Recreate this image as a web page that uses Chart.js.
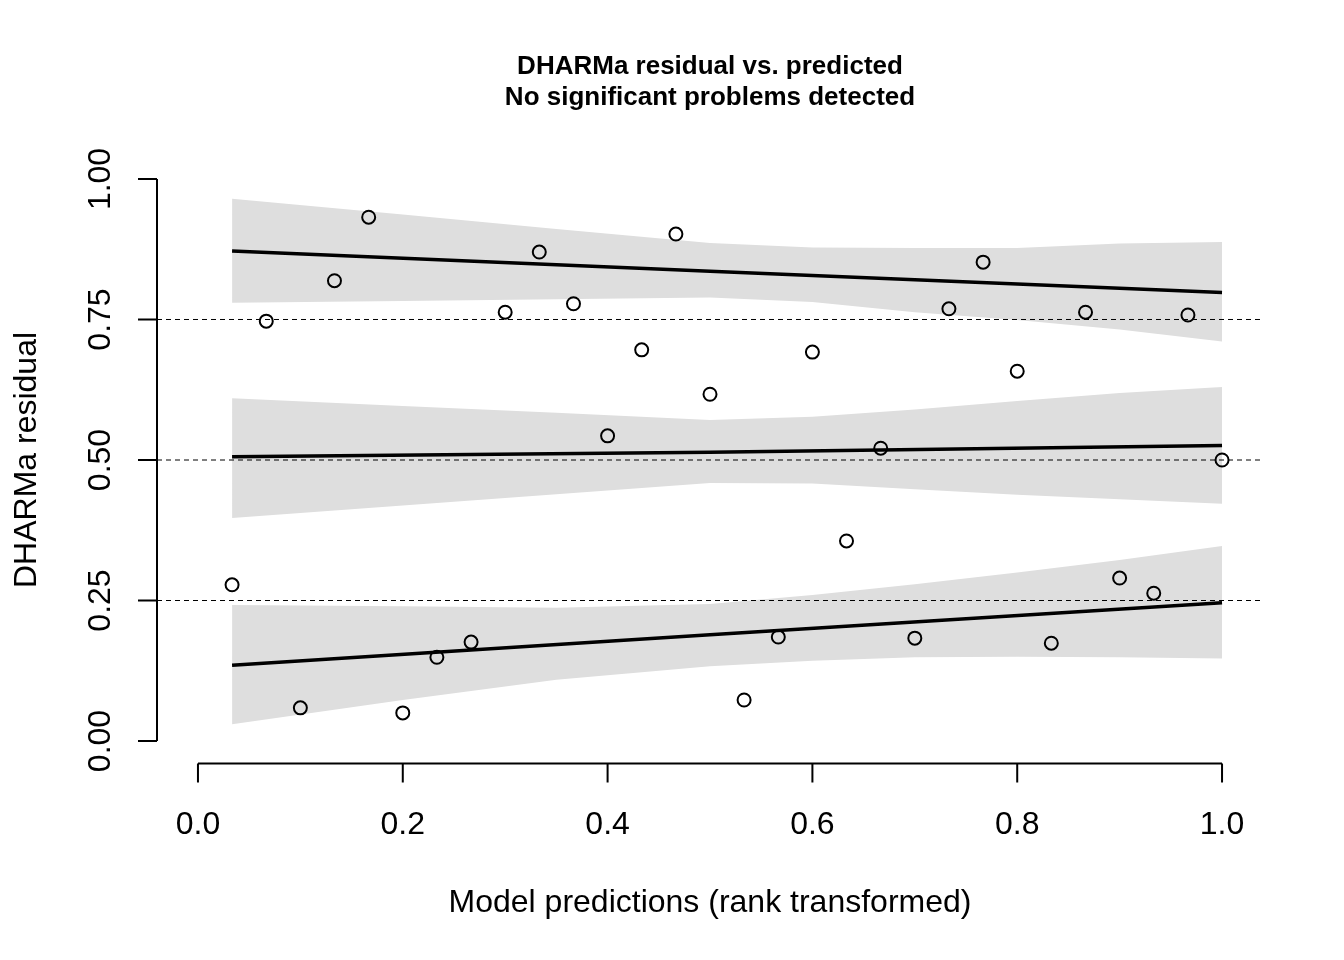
<!DOCTYPE html>
<html>
<head>
<meta charset="utf-8">
<title>DHARMa residual vs. predicted</title>
<script src="https://cdn.jsdelivr.net/npm/chart.js@4.4.1/dist/chart.umd.min.js"></script>
<style>
  html, body { margin: 0; padding: 0; background: #fff; }
  #wrap { width: 1344px; height: 960px; }
</style>
</head>
<body>
<div id="wrap"><canvas id="chart" width="1344" height="960"></canvas></div>
<script>
// scaled residuals, x = rank transformed predictions (i/30)
const pointX = [
  0.0333, 0.0667, 0.1, 0.1333, 0.1667, 0.2, 0.2333, 0.2667, 0.3, 0.3333,
  0.3667, 0.4, 0.4333, 0.4667, 0.5, 0.5333, 0.5667, 0.6, 0.6333, 0.6667,
  0.7, 0.7333, 0.7667, 0.8, 0.8333, 0.8667, 0.9, 0.9333, 0.9667, 1.0,
];
const residuals = [
  0.278, 0.747, 0.059, 0.819, 0.932, 0.050, 0.149, 0.176, 0.763, 0.870,
  0.778, 0.543, 0.696, 0.902, 0.617, 0.073, 0.185, 0.692, 0.356, 0.521,
  0.183, 0.769, 0.852, 0.658, 0.174, 0.763, 0.290, 0.263, 0.758, 0.500,
];

// quantile regression lines
const lineX = [0.0333, 0.5, 1.0];
const q75Line = [0.872, 0.836, 0.798];
const q50Line = [0.506, 0.514, 0.526];
const q25Line = [0.135, 0.189, 0.246];

// confidence bands around each quantile line
const bandX = [0.0333, 0.2, 0.35, 0.5, 0.6, 0.7, 0.8, 0.9, 1.0];
const q75Upper = [0.965, 0.937, 0.911, 0.886, 0.878, 0.877, 0.877, 0.885, 0.888];
const q75Lower = [0.780, 0.783, 0.786, 0.789, 0.781, 0.763, 0.749, 0.732, 0.711];
const q50Upper = [0.610, 0.596, 0.584, 0.571, 0.577, 0.590, 0.605, 0.619, 0.630];
const q50Lower = [0.397, 0.419, 0.439, 0.459, 0.458, 0.448, 0.438, 0.430, 0.422];
const q25Upper = [0.242, 0.240, 0.237, 0.244, 0.260, 0.279, 0.300, 0.322, 0.347];
const q25Lower = [0.030, 0.073, 0.109, 0.133, 0.143, 0.149, 0.150, 0.149, 0.147];

const refLevels = [0.25, 0.5, 0.75];
const xTicks = [0, 0.2, 0.4, 0.6, 0.8, 1.0];
const xTickLabels = ["0.0", "0.2", "0.4", "0.6", "0.8", "1.0"];
const yTicks = [0, 0.25, 0.5, 0.75, 1.0];
const yTickLabels = ["0.00", "0.25", "0.50", "0.75", "1.00"];

const X_MIN = -0.04, X_MAX = 1.04, Y_MIN = -0.04, Y_MAX = 1.04;
const FONT = '"Liberation Sans", Arial, sans-serif';
const BAND = "#dedede";

const toXY = (xs, ys) => xs.map((x, i) => ({ x, y: ys[i] }));

function bandPair(upper, lower) {
  const base = { pointRadius: 0, borderWidth: 0, borderColor: BAND, backgroundColor: BAND, order: 4 };
  return [
    { ...base, data: toXY(bandX, upper), fill: "+1" },
    { ...base, data: toXY(bandX, lower), fill: false },
  ];
}

const refSets = refLevels.map((lvl) => ({
  data: [{ x: X_MIN, y: lvl }, { x: X_MAX, y: lvl }],
  borderColor: "#000",
  borderWidth: 1,
  borderDash: [5, 4],
  pointRadius: 0,
  fill: false,
  order: 3,
}));

const lineSets = [q75Line, q50Line, q25Line].map((ys) => ({
  data: toXY(lineX, ys),
  borderColor: "#000",
  borderWidth: 3.5,
  pointRadius: 0,
  fill: false,
  order: 2,
}));

// R style axes: line only between outer ticks, outward ticks, rotated y labels
const rAxes = {
  id: "rAxes",
  afterDraw(chart) {
    const { ctx, chartArea: area, scales } = chart;
    const xs = scales.x, ys = scales.y;
    ctx.save();
    ctx.strokeStyle = "#000";
    ctx.fillStyle = "#000";
    ctx.lineWidth = 2;

    // x axis
    const axY = area.bottom;
    ctx.beginPath();
    ctx.moveTo(xs.getPixelForValue(xTicks[0]), axY);
    ctx.lineTo(xs.getPixelForValue(xTicks[xTicks.length - 1]), axY);
    xTicks.forEach((t) => {
      const px = xs.getPixelForValue(t);
      ctx.moveTo(px, axY);
      ctx.lineTo(px, axY + 19);
    });
    ctx.stroke();
    ctx.font = `32px ${FONT}`;
    ctx.textAlign = "center";
    ctx.textBaseline = "alphabetic";
    xTicks.forEach((t, i) => ctx.fillText(xTickLabels[i], xs.getPixelForValue(t), 834));

    // y axis
    const axX = area.left;
    ctx.beginPath();
    ctx.moveTo(axX, ys.getPixelForValue(yTicks[0]));
    ctx.lineTo(axX, ys.getPixelForValue(yTicks[yTicks.length - 1]));
    yTicks.forEach((t) => {
      const py = ys.getPixelForValue(t);
      ctx.moveTo(axX, py);
      ctx.lineTo(axX - 19, py);
    });
    ctx.stroke();
    yTicks.forEach((t, i) => {
      ctx.save();
      ctx.translate(110, ys.getPixelForValue(t));
      ctx.rotate(-Math.PI / 2);
      ctx.fillText(yTickLabels[i], 0, 0);
      ctx.restore();
    });

    // axis titles
    const midX = (area.left + area.right) / 2;
    const midY = (area.top + area.bottom) / 2;
    ctx.fillText("Model predictions (rank transformed)", midX, 912);
    ctx.save();
    ctx.translate(36, midY);
    ctx.rotate(-Math.PI / 2);
    ctx.fillText("DHARMa residual", 0, 0);
    ctx.restore();

    // main title
    ctx.font = `bold 26px ${FONT}`;
    ctx.fillText("DHARMa residual vs. predicted", midX, 74);
    ctx.fillText("No significant problems detected", midX, 105);
    ctx.restore();
  },
};

new Chart(document.getElementById("chart").getContext("2d"), {
  type: "line",
  data: {
    datasets: [
      ...bandPair(q75Upper, q75Lower),
      ...bandPair(q50Upper, q50Lower),
      ...bandPair(q25Upper, q25Lower),
      ...refSets,
      ...lineSets,
      {
        data: toXY(pointX, residuals),
        showLine: false,
        pointStyle: "circle",
        pointRadius: 6.5,
        pointBorderWidth: 2,
        pointBorderColor: "#000",
        pointBackgroundColor: "rgba(0,0,0,0)",
        order: 1,
      },
    ],
  },
  options: {
    responsive: false,
    animation: false,
    devicePixelRatio: 1,
    layout: { padding: { left: 157, right: 81, top: 156.5, bottom: 196.5 } },
    scales: {
      x: { type: "linear", min: X_MIN, max: X_MAX, display: false },
      y: { type: "linear", min: Y_MIN, max: Y_MAX, display: false },
    },
    plugins: {
      legend: { display: false },
      tooltip: { enabled: false },
    },
    elements: { line: { tension: 0 } },
  },
  plugins: [rAxes],
});
</script>
</body>
</html>
